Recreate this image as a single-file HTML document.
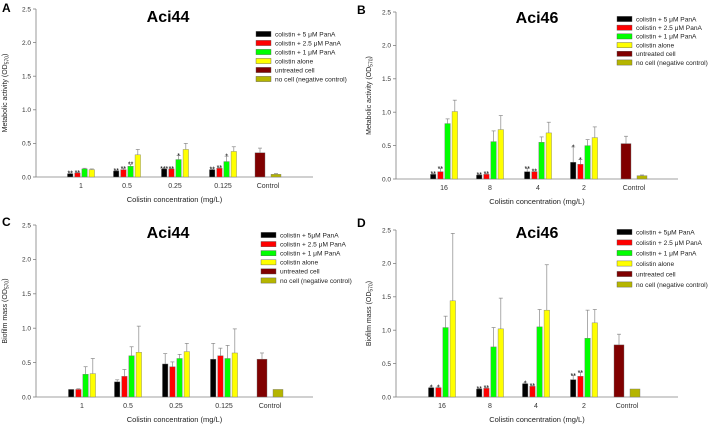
<!DOCTYPE html>
<html><head><meta charset="utf-8"><style>
html,body{margin:0;padding:0;background:#fff;}
svg{display:block;font-family:"Liberation Sans",sans-serif;}
</style></head><body>
<svg id="fig" width="709" height="427" viewBox="0 0 709 427" xmlns="http://www.w3.org/2000/svg"></svg>
<script>
const legendA = ["colistin + 5 \u03bcM PanA","colistin + 2.5 \u03bcM PanA","colistin + 1 \u03bcM PanA","colistin alone","untreated cell","no cell (negative control)"];
const legendC = ["colistin + 5\u03bcM PanA","colistin + 2.5 \u03bcM PanA","colistin + 1 \u03bcM PanA","colistin alone","untreated cell","no cell (negative control)"];
const yTicks = ["0.0","0.5","1.0","1.5","2.0","2.5"];
const catsA = ["1","0.5","0.25","0.125","Control"];
const catsB = ["16","8","4","2","Control"];

const aBlack=[0.05,0.09,0.12,0.11], aBlackE=[0.01,0.01,0.01,0.01];
const aRed=[0.06,0.11,0.12,0.13], aRedE=[0.01,0.02,0.01,0.01];
const aGreen=[0.12,0.16,0.26,0.23], aGreenE=[0.01,0.03,0.06,0.08];
const aYellow=[0.11,0.33,0.41,0.38], aYellowE=[0.01,0.08,0.09,0.07];
const aCtrl=[0.36,0.04], aCtrlE=[0.07,0.01];
const aStars=[["**","**","***","**"],["**","**","**","**"],["","**","*","*"],["","","",""]];

const bBlack=[0.07,0.06,0.11,0.25], bBlackE=[0.01,0.01,0.05,0.23];
const bRed=[0.11,0.07,0.11,0.22], bRedE=[0.05,0.01,0.01,0.07];
const bGreen=[0.83,0.56,0.55,0.50], bGreenE=[0.07,0.16,0.08,0.09];
const bYellow=[1.01,0.74,0.69,0.62], bYellowE=[0.17,0.21,0.16,0.16];
const bCtrl=[0.53,0.05], bCtrlE=[0.11,0.01];
const bStars=[["**","**","**","*"],["**","**","**","*"],["","","",""],["","","",""]];

const cBlack=[0.11,0.22,0.48,0.55], cBlackE=[0.0,0.03,0.15,0.23];
const cRed=[0.11,0.30,0.44,0.60], cRedE=[0.01,0.10,0.07,0.11];
const cGreen=[0.33,0.60,0.56,0.56], cGreenE=[0.11,0.13,0.06,0.19];
const cYellow=[0.34,0.65,0.66,0.64], cYellowE=[0.22,0.38,0.12,0.35];
const cCtrl=[0.55,0.11], cCtrlE=[0.09,0.0];
const cStars=[["","","",""],["","","",""],["","","",""],["","","",""]];

const dBlack=[0.14,0.12,0.20,0.26], dBlackE=[0.01,0.01,0.01,0.06];
const dRed=[0.14,0.13,0.16,0.31], dRedE=[0.01,0.01,0.01,0.06];
const dGreen=[1.04,0.75,1.05,0.88], dGreenE=[0.17,0.29,0.26,0.42];
const dYellow=[1.44,1.02,1.30,1.11], dYellowE=[1.01,0.46,0.68,0.20];
const dCtrl=[0.78,0.12], dCtrlE=[0.16,0.0];
const dStars=[["*","**","*","**"],["*","**","**","**"],["","","",""],["","","",""]];

const colors=["#000000","#ff0000","#00ff00","#ffff00","#800000","#b5b500"];
const svg=document.getElementById('fig');
const NS="http://www.w3.org/2000/svg";
function mk(tag,attrs,parent){const e=document.createElementNS(NS,tag);for(const k in attrs)e.setAttribute(k,attrs[k]);(parent||svg).appendChild(e);return e;}

function panel(p){
  const g=mk('g',{});
  
  
  const y=v=>p.y0-(v/2.5)*(p.y0-p.y25);
  const ax='#808080';
  let l=mk('line',{x1:p.ax,y1:p.y25,x2:p.ax,y2:p.y0,stroke:ax,'stroke-width':0.8},g);
  
  l=mk('line',{x1:p.ax,y1:p.y0,x2:p.axEnd,y2:p.y0,stroke:ax,'stroke-width':0.8},g);
  
  yTicks.forEach(t=>{
    const yy=y(parseFloat(t));
    mk('line',{x1:p.ax-3,y1:yy,x2:p.ax,y2:yy,stroke:ax,'stroke-width':0.8},g);
    const tx=mk('text',{x:p.ax-5,y:yy+2.3,'font-size':6.5,'text-anchor':'end',fill:'#333'},g);
    tx.textContent=t;
    
  });
  p.cats.forEach((c,i)=>{
    const tx=mk('text',{x:p.cx[i],y:p.y0+11,'font-size':7,'text-anchor':'middle',fill:'#333'},g);
    tx.textContent=c;
    
  });
  const bw=5.5, step=7.2;
  function bar(xc,v,e,col,w,star){
    const top=y(v), bt=y(v+e);
    if(e>0){mk('line',{x1:xc,y1:top,x2:xc,y2:bt,stroke:'#888','stroke-width':0.7},g);
      mk('line',{x1:xc-2,y1:bt,x2:xc+2,y2:bt,stroke:'#888','stroke-width':0.7},g);}
    const r=mk('rect',{x:xc-w/2,y:top,width:w,height:p.y0-top,fill:col,stroke:'#777','stroke-width':0.4},g);
    
    
    if(star){const s=mk('text',{x:xc,y:bt+2.5,'font-size':7,'text-anchor':'middle',fill:'#000'},g);s.textContent=star;
      }
  }
  for(let i=0;i<4;i++){
    p.series.forEach((s,k)=>{
      const xc=p.cx[i]+(k-1.5)*step;
      bar(xc,s[0][i],s[1][i],colors[k],bw,p.stars[k][i]);
    });
  }
  bar(p.cx[4]-8,p.ctrl[0],p.ctrlE[0],colors[4],10,"");
  bar(p.cx[4]+8,p.ctrl[1],p.ctrlE[1],colors[5],10,"");
  let t=mk('text',{x:p.tx,y:p.ty,'font-size':16,'font-weight':'bold','text-anchor':'middle'},g);
  t.textContent=p.title;
  t=mk('text',{x:p.lx,y:p.ly,'font-size':12,'font-weight':'bold'},g);
  t.textContent=p.letter;
  t=mk('text',{x:(p.ax+p.axEnd)/2,y:p.y0+25,'font-size':7.5,'text-anchor':'middle',fill:'#222'},g);
  t.textContent='Colistin concentration (mg/L)';
  const ym=(p.y0+p.y25)/2;
  t=mk('text',{x:p.ytx,y:ym,'font-size':7,'text-anchor':'middle',fill:'#222',transform:`rotate(-90 ${p.ytx} ${ym})`},g);
  
  t.appendChild(document.createTextNode(p.ylab+' (OD'));
  const sub=mk('tspan',{'font-size':5,dy:1.5},t);sub.textContent='570';
  const cl=mk('tspan',{dy:-1.5},t);cl.textContent=')';
  p.legend.forEach((s,k)=>{
    const yy=p.legY+k*p.legS;
    const r=mk('rect',{x:p.legX,y:yy-2.6,width:15,height:5.2,fill:colors[k],stroke:'#555','stroke-width':0.4},g);
    
    const tx=mk('text',{x:p.legX+19,y:yy+2.3,'font-size':6.6,fill:'#222'},g);
    tx.textContent=s;
  });
}
panel({letter:'A',title:'Aci44',ax:36,axEnd:313,y0:177,y25:9,cx:[81,127,175,223,268],cats:catsA,
  series:[[aBlack,aBlackE],[aRed,aRedE],[aGreen,aGreenE],[aYellow,aYellowE]],stars:aStars,ctrl:aCtrl,ctrlE:aCtrlE,
  tx:168,ty:22,lx:2,ly:12,ytx:7,ylab:'Metabolic activity',legend:legendA,legX:256,legY:34,legS:9});
panel({letter:'B',title:'Aci46',ax:396,axEnd:678,y0:179,y25:12,cx:[444,490,538,584,634],cats:catsB,
  series:[[bBlack,bBlackE],[bRed,bRedE],[bGreen,bGreenE],[bYellow,bYellowE]],stars:bStars,ctrl:bCtrl,ctrlE:bCtrlE,
  tx:537,ty:23,lx:357,ly:14,ytx:371,ylab:'Metabolic activity',legend:legendA,legX:617,legY:19,legS:8.7});
panel({letter:'C',title:'Aci44',ax:36,axEnd:313,y0:397,y25:225,cx:[82,128,176,224,270],cats:catsA,
  series:[[cBlack,cBlackE],[cRed,cRedE],[cGreen,cGreenE],[cYellow,cYellowE]],stars:cStars,ctrl:cCtrl,ctrlE:cCtrlE,
  tx:168,ty:238,lx:2,ly:226,ytx:7,ylab:'Biofilm mass',legend:legendC,legX:261,legY:235,legS:9.1});
panel({letter:'D',title:'Aci46',ax:396,axEnd:678,y0:397,y25:230,cx:[442,490,536,584,627],cats:catsB,
  series:[[dBlack,dBlackE],[dRed,dRedE],[dGreen,dGreenE],[dYellow,dYellowE]],stars:dStars,ctrl:dCtrl,ctrlE:dCtrlE,
  tx:537,ty:238,lx:357,ly:227,ytx:371,ylab:'Biofilm mass',legend:legendC,legX:617,legY:232,legS:10.5});
</script>
</body></html>
